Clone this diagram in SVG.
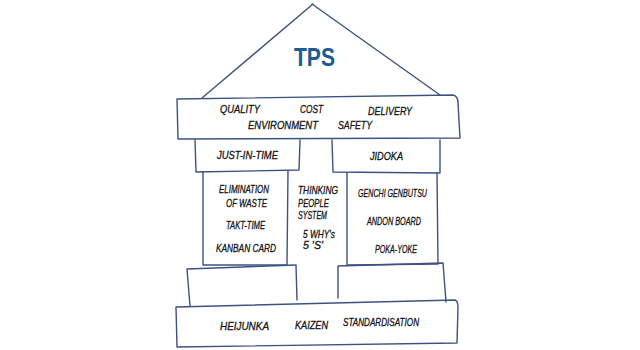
<svg xmlns="http://www.w3.org/2000/svg" width="640" height="350" viewBox="0 0 640 350">
<style>
.ln{fill:none;stroke:#3d5283;stroke-width:1.4;stroke-linecap:round;stroke-linejoin:round}
.t{font-family:"Liberation Sans Narrow","Liberation Sans",Arial,sans-serif;font-size:10.5px;fill:#151515;stroke:#151515;stroke-width:0.3;font-style:italic}
.tps{font-family:"Liberation Sans Narrow","Liberation Sans",Arial,sans-serif;font-size:26px;font-weight:bold;fill:#1d5c94}
</style>
<rect width="640" height="350" fill="#ffffff"/>
<g id="roof">
<path class="ln" d="M202,98 L313,4 M312,4 L440,95"/>
<text class="tps" x="294" y="66" textLength="41" lengthAdjust="spacingAndGlyphs">TPS</text>
</g>
<g id="beam">
<path class="ln" d="M177,99 L453,95 Q458,96 458,103 L460,138 L178,139 L177,99"/>
<text class="t" x="220" y="113" textLength="40" lengthAdjust="spacingAndGlyphs">QUALITY</text>
<text class="t" x="300" y="113" textLength="23" lengthAdjust="spacingAndGlyphs">COST</text>
<text class="t" x="368" y="115" textLength="44" lengthAdjust="spacingAndGlyphs">DELIVERY</text>
<text class="t" x="248" y="129" textLength="70" lengthAdjust="spacingAndGlyphs">ENVIRONMENT</text>
<text class="t" x="338" y="129" textLength="34" lengthAdjust="spacingAndGlyphs">SAFETY</text>
</g>
<g id="jit">
<path class="ln" d="M195,140 L196,172 L299,170 L300,140"/>
<text class="t" x="217" y="159" textLength="61" lengthAdjust="spacingAndGlyphs">JUST-IN-TIME</text>
</g>
<g id="jidoka">
<path class="ln" d="M332,140 L333,172 L440,173 L440,140"/>
<text class="t" x="370" y="160" textLength="33" lengthAdjust="spacingAndGlyphs">JIDOKA</text>
</g>
<g id="left-pillar">
<path class="ln" d="M203,172 L203,265 L287,265 L288,171"/>
<text class="t" x="219" y="193" textLength="50" lengthAdjust="spacingAndGlyphs">ELIMINATION</text>
<text class="t" x="226" y="207" textLength="41" lengthAdjust="spacingAndGlyphs">OF WASTE</text>
<text class="t" x="226" y="229" textLength="39" lengthAdjust="spacingAndGlyphs">TAKT-TIME</text>
<text class="t" x="216" y="252" textLength="60" lengthAdjust="spacingAndGlyphs">KANBAN CARD</text>
</g>
<g id="center">
<text class="t" x="298" y="194" textLength="40" lengthAdjust="spacingAndGlyphs">THINKING</text>
<text class="t" x="298" y="207" textLength="31" lengthAdjust="spacingAndGlyphs">PEOPLE</text>
<text class="t" x="298" y="219" textLength="29" lengthAdjust="spacingAndGlyphs">SYSTEM</text>
<text class="t" x="303" y="238" textLength="32" lengthAdjust="spacingAndGlyphs">5 WHY's</text>
<text class="t" x="303" y="249" textLength="20" lengthAdjust="spacingAndGlyphs">5 'S'</text>
</g>
<g id="right-pillar">
<path class="ln" d="M347,173 L347,265 L438,264 L437,173"/>
<text class="t" x="358" y="197" textLength="69" lengthAdjust="spacingAndGlyphs">GENCHI GENBUTSU</text>
<text class="t" x="367" y="225" textLength="54" lengthAdjust="spacingAndGlyphs">ANDON BOARD</text>
<text class="t" x="375" y="253" textLength="42" lengthAdjust="spacingAndGlyphs">POKA-YOKE</text>
</g>
<g id="left-block">
<path class="ln" d="M190,306 L187,269 L295,265 M296,265 L297,300"/>
</g>
<g id="right-block">
<path class="ln" d="M338,298 L338,266 L443,263 L446,302"/>
</g>
<g id="foundation">
<path class="ln" d="M176,307 L455,300 Q458,301 458,307 L457,343 L177,347 L176,307"/>
<text class="t" x="220" y="330" textLength="49" lengthAdjust="spacingAndGlyphs">HEIJUNKA</text>
<text class="t" x="295" y="329" textLength="33" lengthAdjust="spacingAndGlyphs">KAIZEN</text>
<text class="t" x="343" y="326" textLength="76" lengthAdjust="spacingAndGlyphs">STANDARDISATION</text>
</g>
</svg>
